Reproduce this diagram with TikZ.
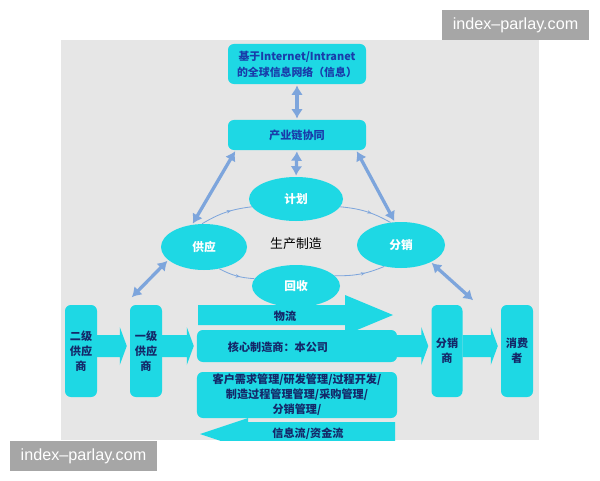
\documentclass[tikz,border=0pt]{standalone}
\usepackage{fontspec}
\setmainfont{Noto Sans CJK SC}
\newfontfamily\wmfont{Liberation Sans}
\usepackage{xcolor}
\usetikzlibrary{arrows.meta,calc,shapes.geometric,decorations.markings}

\definecolor{boxcyan}{RGB}{30,216,228}
\definecolor{linkblue}{RGB}{125,165,220}
\definecolor{panelgray}{RGB}{230,230,230}
\definecolor{textnavy}{RGB}{20,40,105}
\definecolor{textblue}{RGB}{25,60,170}
\definecolor{wmgray}{RGB}{166,166,166}

% block arrow between two bottom boxes, at the height of the core box
\newcommand\flowarrow[2]{%
  \fill[boxcyan] ($(#1.east |- core)+(0,-11)$) -- ($(#2.west |- core)+(-10,-11)$)
    -- ($(#2.west |- core)+(-10,-19)$) -- ($(#2.west |- core)+(-3,0)$)
    -- ($(#2.west |- core)+(-10,19)$) -- ($(#2.west |- core)+(-10,11)$)
    -- ($(#1.east |- core)+(0,11)$) -- cycle;}

\begin{document}
\begin{tikzpicture}[x=0.03cm,y=-0.03cm,
    box/.style={fill=boxcyan,rounded corners=5pt,align=center,inner sep=0pt,
      text=textnavy,font=\bfseries\fontsize{9.5}{12.75}\selectfont},
    topbox/.style={box,text=textblue,minimum width=4.14cm},
    tallbox/.style={box,minimum width=0.96cm,minimum height=2.76cm},
    oval/.style={ellipse,fill=boxcyan,inner sep=0pt,text=white,
      font=\bfseries\fontsize{10}{12}\selectfont},
    link/.style={linkblue,line width=2.8pt,
      {Latex[length=8pt,width=10pt]}-{Latex[length=8pt,width=10pt]},shorten <=1pt,shorten >=1pt},
    cyc/.style={linkblue,line width=0.7pt,postaction={decorate},
      decoration={markings,mark=at position 0.6 with {\arrow{Stealth[length=3.5pt,width=3pt]}}}},
    wmark/.style={fill=wmgray,text=white,inner sep=0pt,
      font=\wmfont\fontsize{13.8}{16}\selectfont}]
  \useasboundingbox (0,0) rectangle (600,480);
  \fill[panelgray] (61,40) rectangle (539,440);

  % network and industry chain
  \node[topbox,minimum height=1.2cm,font=\bfseries\fontsize{9.3}{13.6}\selectfont] (net) at (297,64)
    {基于Internet/Intranet\\的全球信息网络（信息）};
  \node[topbox,minimum height=0.9cm] (chain) at (297,135) {产业链协同};
  \draw[link] (net) -- (chain);

  % production cycle
  \node[oval,minimum width=2.82cm,minimum height=1.32cm] (plan) at (296,199) {计划};
  \node[oval,minimum width=2.58cm,minimum height=1.38cm] (supply) at (204,247) {供应};
  \node[oval,minimum width=2.64cm,minimum height=1.38cm] (distr) at (401,245) {分销};
  \node[oval,minimum width=2.64cm,minimum height=1.26cm] (recyc) at (296,286) {回收};
  \node[font=\fontsize{11}{13}\selectfont] (prod) at (296,244) {生产制造};
  \draw[cyc] (supply.95) to[bend left=12] (plan.190);
  \draw[cyc] (plan.350) to[bend left=12] (distr.115);
  \draw[cyc] (supply.305) to[bend right=12] (recyc.170);
  \draw[cyc] (recyc.15) to[bend right=12] (distr.232);

  \draw[link] (chain.south) -- (plan.north);
  \draw[link] ($(chain.south west)+(8,0)$) -- (supply.118);
  \draw[link] ($(chain.south east)+(-10,0)$) -- (distr.105);

  % material flow arrow
  \fill[boxcyan] (198,305) -- (345,305) -- (345,295) -- (393,315) -- (345,335)
    -- (345,325) -- (198,325) -- cycle;
  \node[font=\bfseries\fontsize{9.5}{12}\selectfont,text=textnavy] (logi) at (285,316) {物流};

  % supply chain members
  \node[tallbox] (sup2) at (81,351) {二级\\供应\\商};
  \node[tallbox] (sup1) at (146,351) {一级\\供应\\商};
  \node[box,minimum width=6cm,minimum height=0.96cm] (core) at (297,346) {};
  \node[font=\bfseries\fontsize{9.5}{12}\selectfont,text=textnavy] (corelbl) at (278,347) {核心制造商：本公司};
  \node[box,minimum width=6cm,minimum height=1.38cm] (mgmt) at (297,395)
    {客户需求管理/研发管理/过程开发/\\制造过程管理管理/采购管理/\\分销管理/};
  \node[tallbox,minimum width=0.93cm] (dist) at (447,351) {分销\\商};
  \node[tallbox] (cons) at (517,351) {消费\\者};

  \flowarrow{sup2}{sup1}
  \flowarrow{sup1}{core}
  \flowarrow{core}{dist}
  \flowarrow{dist}{cons}

  \coordinate (suptop) at (131,298);
  \coordinate (constop) at (474,301);
  \draw[link] (suptop) -- (supply.200);
  \draw[link] (distr.330) -- (constop);

  % information and money flow arrow
  \begin{scope}
    \clip (61,40) rectangle (539,440);
    \fill[boxcyan] (395,422) -- (248,422) -- (248,418) -- (200,434) -- (248,450)
      -- (248,446) -- (395,446) -- cycle;
    \node[font=\bfseries\fontsize{9.5}{12}\selectfont,text=textnavy] (info) at (308,434) {信息流/资金流};
  \end{scope}

  % watermarks
  \node[wmark,minimum width=4.41cm,minimum height=0.9cm] (mark1) at (515.5,25) {index–parlay.com};
  \node[wmark,minimum width=4.41cm,minimum height=0.9cm] (mark2) at (83.5,456) {index–parlay.com};
\end{tikzpicture}
\end{document}
